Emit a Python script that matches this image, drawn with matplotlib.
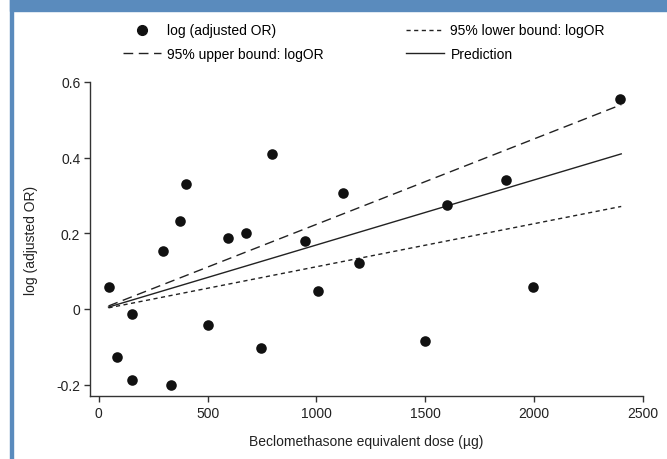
import matplotlib.pyplot as plt
from matplotlib.lines import Line2D

plt.rcParams['font.family'] = ['Liberation Sans', 'DejaVu Sans']

# Observed points: dose (ug) vs log(adjusted OR)
dose = [47, 84, 155, 155, 332, 297, 372, 401, 504, 596, 676, 746, 794,
        947, 1006, 1123, 1196, 1497, 1599, 1872, 1993, 2394]
log_or = [0.058, -0.128, -0.013, -0.187, -0.200, 0.154, 0.232, 0.331,
          -0.042, 0.188, 0.200, -0.104, 0.411, 0.180, 0.048, 0.307,
          0.121, -0.084, 0.275, 0.340, 0.059, 0.554]

# Fitted line and its 95% bounds (end points)
line_dose = [45, 2400]
prediction = [0.005, 0.410]
upper_bound = [0.008, 0.540]
lower_bound = [0.003, 0.271]

x_ticks = [0, 500, 1000, 1500, 2000, 2500]
y_ticks = [-0.2, 0, 0.2, 0.4, 0.6]
y_tick_labels = ['-0.2', '0', '0.2', '0.4', '0.6']

fig = plt.figure(figsize=(6.67, 4.6), dpi=100)

# blue frame from the source page
blue = '#5a8bbd'
fig.patches.append(plt.Rectangle((10 / 667, 1 - 12 / 460), 1, 12 / 460,
                                 transform=fig.transFigure, color=blue))
fig.patches.append(plt.Rectangle((10 / 667, 0), 3 / 667, 1,
                                 transform=fig.transFigure, color=blue))

ax = fig.add_axes([90 / 667, 1 - 397 / 460, 553 / 667, 314 / 460])

ax.scatter(dose, log_or, s=58, color='#111111', zorder=3, linewidths=0)
ax.plot(line_dose, upper_bound, color='#222222', lw=1, dashes=(7, 4))
ax.plot(line_dose, lower_bound, color='#222222', lw=1, dashes=(3, 2.5))
ax.plot(line_dose, prediction, color='#222222', lw=1)

ax.set_xlim(-40, 2500)
ax.set_ylim(-0.23, 0.6)
ax.set_xticks(x_ticks)
ax.set_yticks(y_ticks)
ax.set_yticklabels(y_tick_labels)

for side in ['top', 'right']:
    ax.spines[side].set_visible(False)
for side in ['left', 'bottom']:
    ax.spines[side].set_color('#333333')
    ax.spines[side].set_linewidth(1)
ax.tick_params(direction='out', length=4, width=1, color='#333333',
               labelsize=10, labelcolor='#222222', pad=3)

ax.set_xlabel('Beclomethasone equivalent dose (\u00b5g)', fontsize=10,
              color='#222222', labelpad=10)
ax.set_ylabel('log (adjusted OR)', fontsize=10, color='#222222', labelpad=13)

handles = [
    Line2D([], [], marker='o', ls='none', color='#111111', markersize=7),
    Line2D([], [], color='#222222', lw=1, dashes=(7, 4)),
    Line2D([], [], color='#222222', lw=1, dashes=(3, 2.5)),
    Line2D([], [], color='#222222', lw=1),
]
labels = ['log (adjusted OR)', '95% upper bound: logOR',
          '95% lower bound: logOR', 'Prediction']
fig.legend(handles, labels, ncol=2, frameon=False, fontsize=10,
           loc='center', bbox_to_anchor=(364 / 667, 1 - 43 / 460),
           handlelength=2.7, columnspacing=5.9, labelspacing=0.65,
           handletextpad=0.5)

fig.savefig('out.png', dpi=100)
